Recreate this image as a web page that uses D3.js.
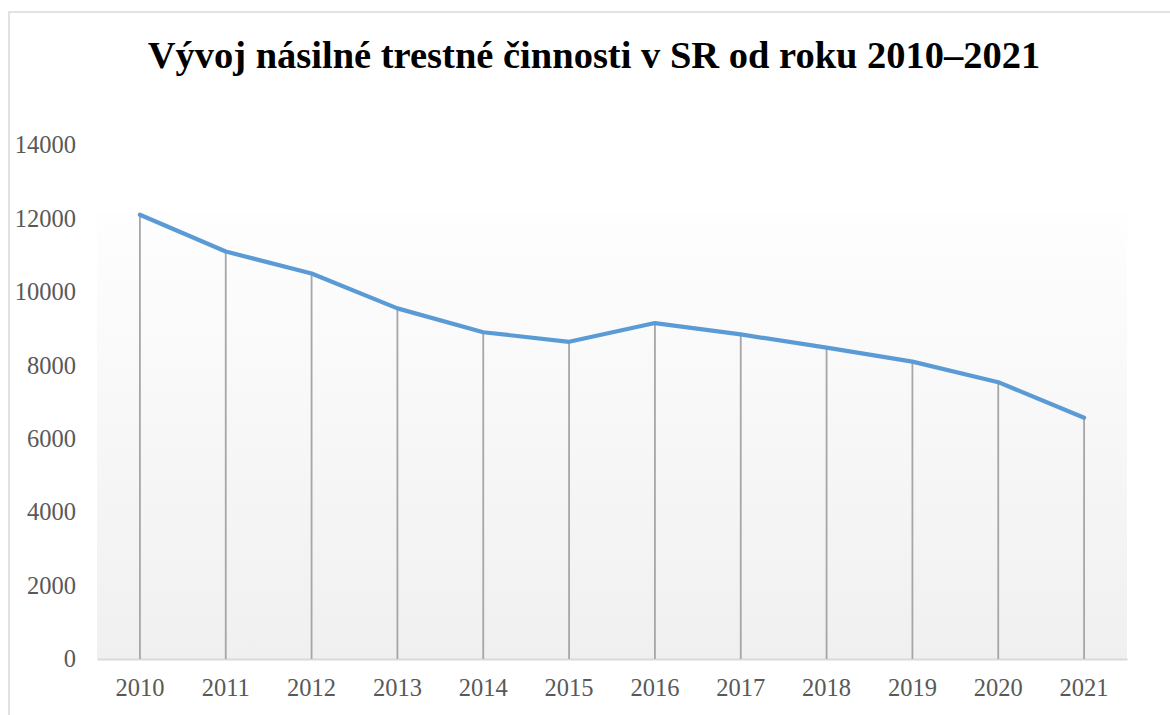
<!DOCTYPE html>
<html>
<head>
<meta charset="utf-8">
<script src="https://cdn.jsdelivr.net/npm/d3@7"></script>
<style>
  html, body { margin: 0; padding: 0; background: #fff; }
  svg { display: block; }
</style>
</head>
<body>
<svg id="chart" width="1170" height="715"></svg>
<script>
// data
var years = ["2010","2011","2012","2013","2014","2015","2016","2017","2018","2019","2020","2021"]
var cases = [12100, 11100, 10500, 9550, 8900, 8640, 9150, 8840, 8480, 8100, 7540, 6570]
var yTicks = [0, 2000, 4000, 6000, 8000, 10000, 12000, 14000]
var title = "Vývoj násilné trestné činnosti v SR od roku 2010–2021"

var svg = d3.select("#chart")
  , W = 1170
  , H = 715
  , plotLeft = 97
  , plotRight = 1127
  , plotTop = 145
  , plotBottom = 659
  , serif = "'Liberation Serif', 'Times New Roman', serif"

var x = d3.scaleBand().domain(years).range([plotLeft, plotRight])
var y = d3.scaleLinear().domain([0, 14000]).range([plotBottom, plotTop])

// chart frame (only top & left edges visible in the shot)
svg.append("path")
  .attr("d", "M9," + (H + 5) + "V12H" + (W + 5))
  .attr("fill", "none")
  .attr("stroke", "#d9d9d9")
  .attr("stroke-width", 1.5)

// plot area gradient
var defs = svg.append("defs")
var grad = defs.append("linearGradient")
  .attr("id", "plotGrad")
  .attr("x1", 0).attr("y1", 0).attr("x2", 0).attr("y2", 1)
grad.append("stop").attr("offset", "0%").attr("stop-color", "#fefefe")
grad.append("stop").attr("offset", "100%").attr("stop-color", "#f0f0f0")

svg.append("rect")
  .attr("x", plotLeft)
  .attr("y", y(12000) - 6)
  .attr("width", plotRight - plotLeft)
  .attr("height", plotBottom - y(12000) + 6)
  .attr("fill", "url(#plotGrad)")

// title
svg.append("text")
  .attr("x", 594)
  .attr("y", 68)
  .attr("text-anchor", "middle")
  .style("font-family", serif)
  .style("font-weight", "bold")
  .style("font-size", "38.5px")
  .style("fill", "#000")
  .text(title)

// y axis labels
var yAxis = d3.axisLeft(y).tickValues(yTicks).tickFormat(d3.format("d")).tickSize(0).tickPadding(21)
var gy = svg.append("g")
  .attr("transform", "translate(" + plotLeft + ",0)")
  .call(yAxis)
gy.select(".domain").remove()
gy.selectAll("text")
  .style("font-family", serif)
  .style("font-size", "24.5px")
  .style("fill", "#595959")

// x axis labels + baseline
var xAxis = d3.axisBottom(x).tickSize(0).tickPadding(20)
var gx = svg.append("g")
  .attr("transform", "translate(0," + plotBottom + ")")
  .call(xAxis)
gx.select(".domain")
  .attr("stroke", "#d9d9d9")
  .attr("stroke-width", 2)
gx.selectAll("text")
  .style("font-family", serif)
  .style("font-size", "24.5px")
  .style("fill", "#595959")

// drop lines
svg.append("g")
  .selectAll("line")
  .data(cases)
  .enter().append("line")
    .attr("x1", function(d, i){ return x(years[i]) + x.bandwidth()/2 })
    .attr("x2", function(d, i){ return x(years[i]) + x.bandwidth()/2 })
    .attr("y1", function(d){ return y(d) })
    .attr("y2", plotBottom)
    .attr("stroke", "#a6a6a6")
    .attr("stroke-width", 1.8)

// the series
var line = d3.line()
  .x(function(d, i){ return x(years[i]) + x.bandwidth()/2 })
  .y(function(d){ return y(d) })

svg.append("path")
  .datum(cases)
  .attr("d", line)
  .attr("fill", "none")
  .attr("stroke", "#5b9bd5")
  .attr("stroke-width", 4.2)
  .attr("stroke-linejoin", "round")
  .attr("stroke-linecap", "round")
</script>
</body>
</html>
